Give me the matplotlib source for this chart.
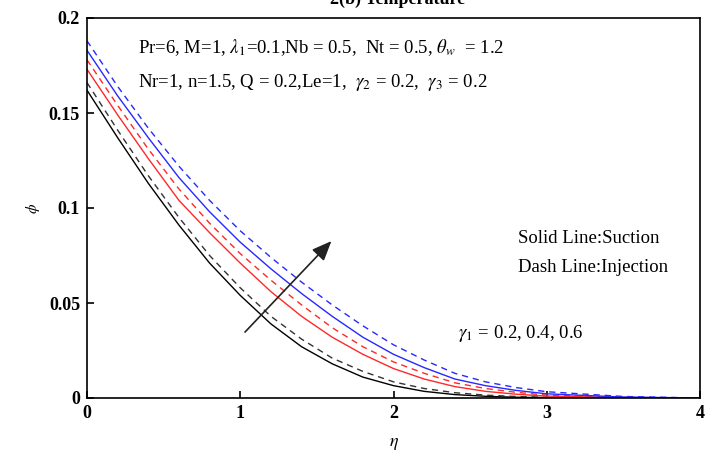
import matplotlib
matplotlib.use("Agg")
import matplotlib.pyplot as plt

# eta grid and phi values
eta = [0.0, 0.2, 0.4, 0.6, 0.8, 1.0, 1.2, 1.4, 1.6, 1.8, 2.0, 2.2, 2.4, 2.6, 2.8, 3.0, 3.5, 4.0]

# solid = suction, dashed = injection ; gamma1 = 0.2 (black), 0.4 (red), 0.6 (blue)
black_solid = [0.162, 0.137, 0.113, 0.091, 0.071, 0.054, 0.039, 0.027, 0.018, 0.011, 0.0065, 0.0035, 0.0018, 0.0009, 0.0004, 0.0002, 0.0, 0.0]
black_dash = [0.166, 0.141, 0.117, 0.095, 0.075, 0.058, 0.043, 0.031, 0.021, 0.014, 0.0085, 0.005, 0.0028, 0.0015, 0.0008, 0.0004, 0.0001, 0.0]
red_solid = [0.173, 0.149, 0.126, 0.104, 0.087, 0.071, 0.056, 0.043, 0.032, 0.023, 0.0155, 0.010, 0.006, 0.0035, 0.002, 0.001, 0.0002, 0.0]
red_dash = [0.178, 0.154, 0.131, 0.110, 0.092, 0.076, 0.062, 0.049, 0.037, 0.027, 0.019, 0.013, 0.008, 0.005, 0.003, 0.0015, 0.0003, 0.0]
blue_solid = [0.183, 0.159, 0.137, 0.116, 0.098, 0.082, 0.068, 0.055, 0.043, 0.032, 0.023, 0.016, 0.010, 0.0065, 0.004, 0.0022, 0.0005, 0.0]
blue_dash = [0.188, 0.164, 0.142, 0.122, 0.104, 0.088, 0.074, 0.061, 0.049, 0.038, 0.028, 0.020, 0.013, 0.0085, 0.0055, 0.0033, 0.0008, 0.0]

xticks = [0, 1, 2, 3, 4]
xticklabels = ["0", "1", "2", "3", "4"]
yticks = [0, 0.05, 0.1, 0.15, 0.2]
yticklabels = ["0", "0.05", "0.1", "0.15", "0.2"]

plt.rcParams['font.family'] = ['Liberation Serif', 'DejaVu Serif']
plt.rcParams['mathtext.fontset'] = 'stix'

fig = plt.figure(figsize=(7.11, 4.62), dpi=100)
ax = fig.add_axes([87 / 711, 64 / 462, 613 / 711, 380 / 462])

dash = (0, (4.5, 3.5))
ax.plot(eta, black_solid, color='black', lw=1.0)
ax.plot(eta, black_dash, color='#333333', lw=1.0, linestyle=dash)
ax.plot(eta, red_solid, color='#ff2828', lw=1.0)
ax.plot(eta, red_dash, color='#ff2828', lw=1.0, linestyle=dash)
ax.plot(eta, blue_solid, color='#2828ff', lw=1.0)
ax.plot(eta, blue_dash, color='#2828ff', lw=1.0, linestyle=dash)

ax.set_xlim(0, 4)
ax.set_ylim(0, 0.2)
ax.set_xticks(xticks)
ax.set_xticklabels(xticklabels, fontweight='bold', fontsize=13)
ax.set_yticks(yticks)
ax.set_yticklabels(yticklabels, fontweight='bold', fontsize=13)
ax.tick_params(direction='in', length=5, width=1.2, top=False, right=False, pad=5)
for s in ax.spines.values():
    s.set_linewidth(1.2)

# arrow showing increasing gamma1
ax.annotate('', xy=(1.595, 0.0826), xytext=(1.031, 0.0347),
            arrowprops=dict(arrowstyle='-|>,head_length=1.2,head_width=0.5',
                            color='#222222', lw=1.2, shrinkA=0, shrinkB=0))

fs = 13.5
ax.text(0.333, 0.1845, r'Pr=6, M=1, $\lambda_1$=0.1,Nb = 0.5,  Nt = 0.5, $\theta_w$  = 1.2',
        fontsize=fs, va='center', ha='left')
ax.text(0.333, 0.166, r'Nr=1, n=1.5, Q = 0.2,Le=1,  $\gamma_2$ = 0.2,  $\gamma_3$ = 0.2',
        fontsize=fs, va='center', ha='left')
ax.text(2.81, 0.0839, 'Solid Line:Suction', fontsize=fs, va='center', ha='left')
ax.text(2.81, 0.0689, 'Dash Line:Injection', fontsize=fs, va='center', ha='left')
ax.text(2.42, 0.0337, r'$\gamma_1$ = 0.2, 0.4, 0.6', fontsize=fs, va='center', ha='left')

ax.set_xlabel(r'$\eta$', fontsize=13)
ax.xaxis.set_label_coords(0.5, -45 / 380)
ax.xaxis.label.set_va('center')
ax.set_ylabel(r'$\phi$', fontsize=11, rotation=90)
ax.yaxis.set_label_coords(-54 / 613, 0.5)
ax.yaxis.label.set_va('center')

fig.text(398 / 711, 1 - 4 / 462, '2(b) Temperature', fontsize=13, fontweight='bold',
         ha='center', va='baseline')

fig.savefig('out.png', dpi=100)
